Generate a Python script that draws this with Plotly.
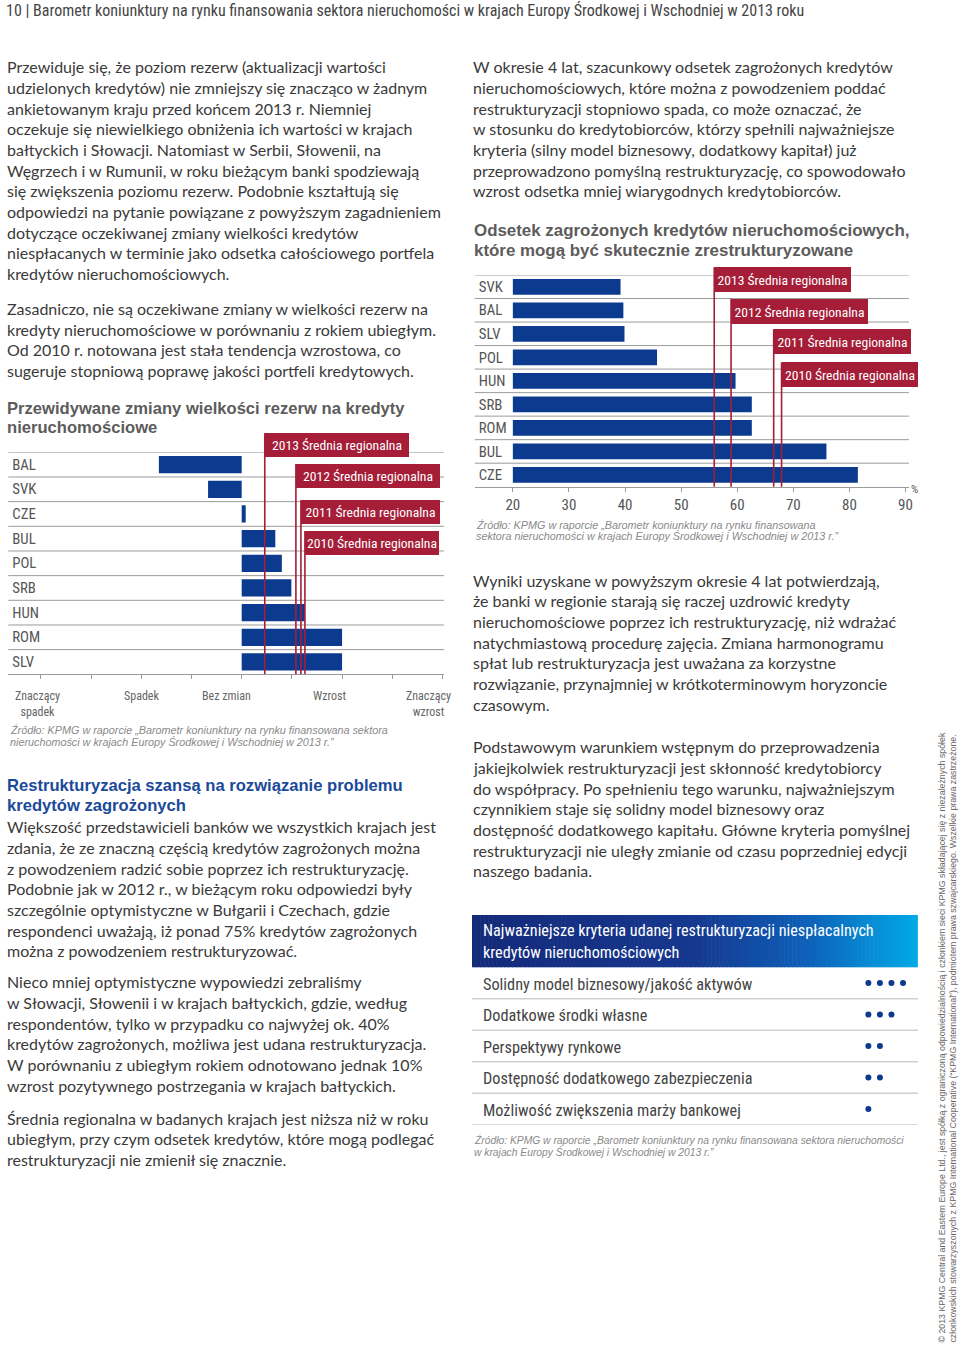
import plotly.graph_objects as go

W, H = 960, 1349


def PX(x):
    return x / W


def PY(y):
    return 1 - y / H


NARROW = "Roboto Condensed, DejaVu Sans Condensed, Arial Narrow, sans-serif"
BODY = "Lato, Open Sans, sans-serif"
ARIAL = "Liberation Sans, Arial, sans-serif"
NAVY = "#0B3A8E"
RED = "#A51D37"
GRID = "#9b9b9b"
TXT = "#3a3a3a"
GREY = "#5c5c5c"
SRC = "#8a8a8a"

# ------------------------------------------------------------------ data
# Chart 1: expected change in provisions (scale: -4 significant drop ... +4 significant rise)
c1_countries = ["BAL", "SVK", "CZE", "BUL", "POL", "SRB", "HUN", "ROM", "SLV"]
c1_values = [-1.65, -0.67, 0.08, 0.67, 0.80, 0.99, 1.26, 2.00, 2.00]
avg_years = ["2013", "2012", "2011", "2010"]
c1_avg_values = [0.46, 1.08, 1.18, 1.26]
c1_scale_ticks = [-4, -3, -2, -1, 0, 1, 2, 3, 4]
c1_scale_labels = ["Znaczący<br>spadek", "Spadek", "Bez zmian", "Wzrost", "Znaczący<br>wzrost"]

# Chart 2: share of NPLs that can be restructured (%)
c2_countries = ["SVK", "BAL", "SLV", "POL", "HUN", "SRB", "ROM", "BUL", "CZE"]
c2_values = [39.2, 39.7, 39.9, 45.7, 59.7, 62.6, 62.6, 75.9, 81.5]
c2_avg_values = [55.9, 58.9, 66.5, 67.9]
c2_ticks = [20, 30, 40, 50, 60, 70, 80, 90]
C2_BASE = 20

# Table: criteria and importance (number of dots)
criteria = [
    "Solidny model biznesowy/jakość aktywów",
    "Dodatkowe środki własne",
    "Perspektywy rynkowe",
    "Dostępność dodatkowego zabezpieczenia",
    "Możliwość zwiększenia marży bankowej",
]
criteria_scores = [4, 3, 2, 2, 1]

# ------------------------------------------------------------------ layout constants (pixels)
C1_L, C1_R, C1_T, C1_B = 8.3, 446, 452.3, 674.3
C1_ZERO, C1_UNIT = 242.7, 50.4
C1_LABEL_X = [-4.07, -2.0, -0.3, 1.75, 3.72]
c1_box_tops = [433.3, 464.0, 500.3, 531.0]
c1_box_w = [144, 144, 139, 134]

C2_L, C2_R, C2_T, C2_B = 476.7, 912.7, 275.0, 486.7
C2_X20, C2_UNIT = 515.0, 5.633
c2_box_tops = [267.3, 298.7, 329.3, 362.3]
c2_box_w = [137, 137, 137, 136]

T_L, T_R, T_T, T_B = 474, 921.7, 967.3, 1124.8
DOT0, DOTSTEP = 872.0, 11.6

fig = go.Figure()

# ------------------------------------------------------------------ traces
fig.add_trace(go.Bar(
    x=c1_values, y=c1_countries, orientation="h", width=0.7,
    marker=dict(color=NAVY, line=dict(width=0)), xaxis="x", yaxis="y",
    showlegend=False, hoverinfo="x+y"))

fig.add_trace(go.Bar(
    x=[v - C2_BASE for v in c2_values], base=C2_BASE, y=c2_countries,
    orientation="h", width=0.67,
    marker=dict(color=NAVY, line=dict(width=0)), xaxis="x2", yaxis="y2",
    showlegend=False, hoverinfo="y"))

dot_x, dot_y = [], []
for name, score in zip(criteria, criteria_scores):
    for k in range(score):
        dot_x.append(k)
        dot_y.append(name)
fig.add_trace(go.Scatter(
    x=dot_x, y=dot_y, mode="markers", marker=dict(size=6, color=NAVY),
    xaxis="x3", yaxis="y3", showlegend=False, hoverinfo="y"))

shapes = []
ann = []


def line(text, x, y, font, color, size, xanchor="left", yanchor="middle", **kw):
    ann.append(dict(text=text, x=PX(x), y=PY(y), xref="paper", yref="paper",
                    xanchor=xanchor, yanchor=yanchor, showarrow=False, align="left",
                    font=dict(family=font, size=size, color=color), **kw))


def para(lines, x, y0, step=20.67, font=BODY, color=TXT, size=16, **kw):
    for i, t in enumerate(lines):
        line(t, x, y0 + i * step, font, color, size, **kw)


# ------------------------------------------------------------------ page header
line("10 | Barometr koniunktury na rynku finansowania sektora nieruchomości w krajach Europy Środkowej i Wschodniej w 2013 roku",
     4, 10.5, NARROW, "#454545", 16.0)

# ------------------------------------------------------------------ left column text
para([
    "Przewiduje się, że poziom rezerw (aktualizacji wartości",
    "udzielonych kredytów) nie zmniejszy się znacząco w żadnym",
    "ankietowanym kraju przed końcem 2013 r. Niemniej",
    "oczekuje się niewielkiego obniżenia ich wartości w krajach",
    "bałtyckich i Słowacji. Natomiast w Serbii, Słowenii, na",
    "Węgrzech i w Rumunii, w roku bieżącym banki spodziewają",
    "się zwiększenia poziomu rezerw. Podobnie kształtują się",
    "odpowiedzi na pytanie powiązane z powyższym zagadnieniem",
    "dotyczące oczekiwanej zmiany wielkości kredytów",
    "niespłacanych w terminie jako odsetka całościowego portfela",
    "kredytów nieruchomościowych.",
], 5, 66.7)
para([
    "Zasadniczo, nie są oczekiwane zmiany w wielkości rezerw na",
    "kredyty nieruchomościowe w porównaniu z rokiem ubiegłym.",
    "Od 2010 r. notowana jest stała tendencja wzrostowa, co",
    "sugeruje stopniową poprawę jakości portfeli kredytowych.",
], 5, 308.5)

para(["<b>Przewidywane zmiany wielkości rezerw na kredyty</b>",
      "<b>nieruchomościowe</b>"], 5, 408, step=19.5, font=ARIAL, color=GREY, size=16.6)

para(["<b>Restrukturyzacja szansą na rozwiązanie problemu</b>",
      "<b>kredytów zagrożonych</b>"], 5, 785, step=20.5, font=ARIAL, color="#1B4A9A", size=16.6)
para([
    "Większość przedstawicieli banków we wszystkich krajach jest",
    "zdania, że ze znaczną częścią kredytów zagrożonych można",
    "z powodzeniem radzić sobie poprzez ich restrukturyzację.",
    "Podobnie jak w 2012 r., w bieżącym roku odpowiedzi były",
    "szczególnie optymistyczne w Bułgarii i Czechach, gdzie",
    "respondenci uważają, iż ponad 75% kredytów zagrożonych",
    "można z powodzeniem restrukturyzować.",
], 5, 826.7)
para([
    "Nieco mniej optymistyczne wypowiedzi zebraliśmy",
    "w Słowacji, Słowenii i w krajach bałtyckich, gdzie, według",
    "respondentów, tylko w przypadku co najwyżej ok. 40%",
    "kredytów zagrożonych, możliwa jest udana restrukturyzacja.",
    "W porównaniu z ubiegłym rokiem odnotowano jednak 10%",
    "wzrost pozytywnego postrzegania w krajach bałtyckich.",
], 5, 981.7)
para([
    "Średnia regionalna w badanych krajach jest niższa niż w roku",
    "ubiegłym, przy czym odsetek kredytów, które mogą podlegać",
    "restrukturyzacji nie zmienił się znacznie.",
], 5, 1118.3)

# ------------------------------------------------------------------ right column text
para([
    "W okresie 4 lat, szacunkowy odsetek zagrożonych kredytów",
    "nieruchomościowych, które można z powodzeniem poddać",
    "restrukturyzacji stopniowo spada, co może oznaczać, że",
    "w stosunku do kredytobiorców, którzy spełnili najważniejsze",
    "kryteria (silny model biznesowy, dodatkowy kapitał) już",
    "przeprowadzono pomyślną restrukturyzację, co spowodowało",
    "wzrost odsetka mniej wiarygodnych kredytobiorców.",
], 473, 66.7)
para(["<b>Odsetek zagrożonych kredytów nieruchomościowych,</b>",
      "<b>które mogą być skutecznie zrestrukturyzowane</b>"], 474, 231, step=19.5,
     font=ARIAL, color=GREY, size=16.9)
para([
    "Wyniki uzyskane w powyższym okresie 4 lat potwierdzają,",
    "że banki w regionie starają się raczej uzdrowić kredyty",
    "nieruchomościowe poprzez ich restrukturyzację, niż wdrażać",
    "natychmiastową procedurę zajęcia. Zmiana harmonogramu",
    "spłat lub restrukturyzacja jest uważana za korzystne",
    "rozwiązanie, przynajmniej w krótkoterminowym horyzoncie",
    "czasowym.",
], 473, 580)
para([
    "Podstawowym warunkiem wstępnym do przeprowadzenia",
    "jakiejkolwiek restrukturyzacji jest skłonność kredytobiorcy",
    "do współpracy. Po spełnieniu tego warunku, najważniejszym",
    "czynnikiem staje się solidny model biznesowy oraz",
    "dostępność dodatkowego kapitału. Główne kryteria pomyślnej",
    "restrukturyzacji nie uległy zmianie od czasu poprzedniej edycji",
    "naszego badania.",
], 473, 746.7)

# ------------------------------------------------------------------ chart 1 decorations
for i in range(len(c1_countries)):
    shapes.append(dict(type="line", xref="paper", yref="y", x0=PX(C1_L), x1=PX(C1_R),
                       y0=i - 0.5, y1=i - 0.5, line=dict(color=GRID, width=1)))
for yr, v, top, bw in zip(avg_years, c1_avg_values, c1_box_tops, c1_box_w):
    shapes.append(dict(type="line", xref="x", yref="paper", x0=v, x1=v,
                       y0=PY(top), y1=PY(C1_B), line=dict(color=RED, width=1.6)))
    ann.append(dict(text=f"{yr} Średnia regionalna", x=v, xref="x", y=PY(top), yref="paper",
                    xanchor="left", yanchor="top", showarrow=False, bgcolor=RED,
                    width=bw, height=24, borderpad=0, borderwidth=0, align="center",
                    font=dict(family=NARROW, size=13.6, color="white")))
for lab, xv in zip(c1_scale_labels, C1_LABEL_X):
    ann.append(dict(text=lab, x=xv, xref="x", y=PY(687), yref="paper", xanchor="center",
                    yanchor="top", showarrow=False, align="center",
                    font=dict(family=NARROW, size=12, color="#666")))
para(["<i>Źródło: KPMG w raporcie „Barometr koniunktury na rynku finansowana sektora</i>",
      "<i>nieruchomości w krajach Europy Środkowej i Wschodniej w 2013 r.”</i>"],
     8, 729.5, step=12, font=ARIAL, color=SRC, size=10.8)

# ------------------------------------------------------------------ chart 2 decorations
for i in range(len(c2_countries)):
    shapes.append(dict(type="line", xref="paper", yref="y2", x0=PX(C2_L), x1=PX(C2_R),
                       y0=i - 0.5, y1=i - 0.5, line=dict(color=GRID, width=1)))
for yr, v, top, bw in zip(avg_years, c2_avg_values, c2_box_tops, c2_box_w):
    shapes.append(dict(type="line", xref="x2", yref="paper", x0=v, x1=v,
                       y0=PY(top), y1=PY(C2_B), line=dict(color=RED, width=1.6)))
    ann.append(dict(text=f"{yr} Średnia regionalna", x=v, xref="x2", y=PY(top), yref="paper",
                    xanchor="left", yanchor="top", showarrow=False, bgcolor=RED,
                    width=bw, height=25, borderpad=0, borderwidth=0, align="center",
                    font=dict(family=NARROW, size=13.6, color="white")))
line("%", 913, 489, NARROW, "#555", 11.5)
para(["<i>Źródło: KPMG w raporcie „Barometr koniunktury na rynku finansowana</i>",
      "<i>sektora nieruchomości w krajach Europy Środkowej i Wschodniej w 2013 r.”</i>"],
     476, 524.5, step=12, font=ARIAL, color=SRC, size=10.8)

# ------------------------------------------------------------------ table
stops = [(0.0, (20, 42, 122)), (0.5, (22, 56, 143)), (0.75, (14, 96, 184)), (1.0, (2, 170, 232))]


def grad(t):
    for (a, ca), (b, cb) in zip(stops[:-1], stops[1:]):
        if a <= t <= b:
            f = (t - a) / (b - a)
            return "rgb(%d,%d,%d)" % tuple(round(ca[j] + (cb[j] - ca[j]) * f) for j in range(3))
    return "rgb(%d,%d,%d)" % stops[-1][1]


NS = 110
HT, HB = 915.0, 967.3
for s in range(NS):
    x0 = T_L + (T_R - T_L) * s / NS
    x1 = T_L + (T_R - T_L) * (s + 1) / NS + 0.6
    shapes.append(dict(type="rect", xref="paper", yref="paper", x0=PX(x0), x1=PX(min(x1, T_R)),
                       y0=PY(HB), y1=PY(HT), line=dict(width=0),
                       fillcolor=grad((s + 0.5) / NS), layer="below"))
line("Najważniejsze kryteria udanej restrukturyzacji niespłacalnych", 483, 930.7, NARROW, "white", 16.2)
line("kredytów nieruchomościowych", 483, 952.7, NARROW, "white", 16.2)

for i, name in enumerate(criteria):
    shapes.append(dict(type="line", xref="paper", yref="y3", x0=PX(T_L), x1=PX(T_R),
                       y0=i + 0.5, y1=i + 0.5, line=dict(color="#cfcfcf", width=1.5)))
    ann.append(dict(text=name, x=PX(483), xref="paper", y=name, yref="y3",
                    xanchor="left", yanchor="middle", yshift=-1, showarrow=False,
                    font=dict(family=NARROW, size=16.3, color="#444")))
para(["<i>Źródło: KPMG w raporcie „Barometr koniunktury na rynku finansowana sektora nieruchomości</i>",
      "<i>w krajach Europy Środkowej i Wschodniej w 2013 r.”</i>"],
     474, 1139.5, step=12, font=ARIAL, color=SRC, size=10.3)

# ------------------------------------------------------------------ vertical copyright
ann.append(dict(
    text="© 2013 KPMG Central and Eastern Europe Ltd., jest spółką z ograniczoną odpowiedzialnością i członkiem sieci KPMG składającej się z niezależnych spółek<br>"
         "członkowskich stowarzyszonych z KPMG International Cooperative (“KPMG International”), podmiotem prawa szwajcarskiego. Wszelkie prawa zastrzeżone.",
    x=PX(950.5), y=PY(1345), xref="paper", yref="paper", xanchor="center", yanchor="bottom",
    textangle=-90, showarrow=False, align="left",
    font=dict(family=ARIAL, size=8.8, color="#666")))

# ------------------------------------------------------------------ axes
fig.update_layout(
    width=W, height=H, margin=dict(l=0, r=0, t=0, b=0),
    paper_bgcolor="white", plot_bgcolor="white", showlegend=False,
    bargap=0.3,
    xaxis=dict(domain=[PX(C1_L), PX(C1_R)],
               range=[(C1_L - C1_ZERO) / C1_UNIT, (C1_R - C1_ZERO) / C1_UNIT],
               anchor="y", showgrid=False, zeroline=False, showline=True,
               linecolor=GRID, linewidth=1, ticks="outside", ticklen=4, tickcolor=GRID,
               tickvals=c1_scale_ticks, showticklabels=False, fixedrange=True),
    yaxis=dict(domain=[PY(C1_B), PY(C1_T)], type="category", categoryorder="array",
               categoryarray=c1_countries, range=[len(c1_countries) - 0.5, -0.5],
               anchor="x", showgrid=False, zeroline=False, showline=False, ticks="",
               ticklabelposition="inside", ticklabelstandoff=1,
               tickfont=dict(family=NARROW, size=14.8, color="#555"), fixedrange=True),
    xaxis2=dict(domain=[PX(C2_L), PX(C2_R)],
                range=[C2_BASE + (C2_L - C2_X20) / C2_UNIT, C2_BASE + (C2_R - C2_X20) / C2_UNIT],
                anchor="y2", showgrid=False, zeroline=False, showline=True,
                linecolor=GRID, linewidth=1, ticks="outside", ticklen=4, tickcolor=GRID,
                tickvals=c2_ticks, ticktext=[str(t) for t in c2_ticks],
                tickfont=dict(family=NARROW, size=15, color="#555"), fixedrange=True),
    yaxis2=dict(domain=[PY(C2_B), PY(C2_T)], type="category", categoryorder="array",
                categoryarray=c2_countries, range=[len(c2_countries) - 0.5, -0.5],
                anchor="x2", showgrid=False, zeroline=False, showline=False, ticks="",
                ticklabelposition="inside", ticklabelstandoff=1,
                tickfont=dict(family=NARROW, size=14.8, color="#555"), fixedrange=True),
    xaxis3=dict(domain=[PX(860), PX(921)],
                range=[(860 - DOT0) / DOTSTEP, (921 - DOT0) / DOTSTEP],
                anchor="y3", visible=False, fixedrange=True),
    yaxis3=dict(domain=[PY(T_B), PY(T_T)], type="category", categoryorder="array",
                categoryarray=criteria, range=[len(criteria) - 0.5, -0.5],
                anchor="x3", visible=False, fixedrange=True),
    shapes=shapes,
    annotations=ann,
)

fig.write_html("out.html", config={"displayModeBar": False},
               post_script="document.body.style.margin='0';document.body.style.overflow='hidden';")
